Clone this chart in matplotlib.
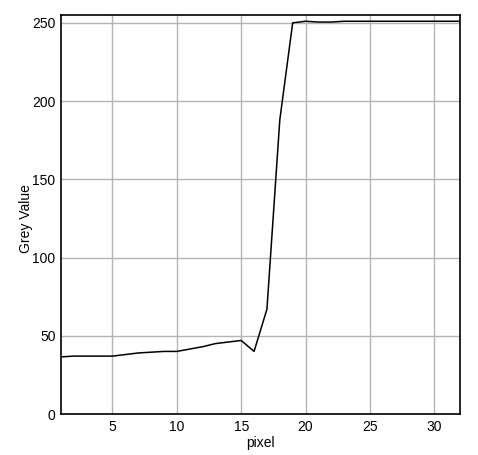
import numpy as np
import matplotlib.pyplot as plt

plt.rcParams['font.family'] = ['Liberation Sans', 'DejaVu Sans']

# profile values
pixel = list(range(1, 33))
grey = [36.5, 37, 37, 37, 37, 38, 39, 39.5, 40, 40,
        41.5, 43, 45, 46, 47, 40, 67, 188, 250, 251,
        250.5, 250.5, 251, 251, 251, 251, 251, 251, 251, 251,
        251, 251]

fig = plt.figure(figsize=(4.78, 4.55), dpi=100)
ax = fig.add_axes([61/478, 1 - 414/455, 399/478, 399/455])

ax.plot(pixel, grey, color='black', linewidth=1.1)

ax.set_xlim(1, 32)
ax.set_ylim(0, 255)
ax.set_xticks([5, 10, 15, 20, 25, 30])
ax.set_yticks([0, 50, 100, 150, 200, 250])
ax.grid(True, color='#b4b4b4', linewidth=1.0)
ax.set_axisbelow(True)
ax.tick_params(length=0, labelsize=10, pad=4)
for s in ax.spines.values():
    s.set_linewidth(1.2)

ax.set_xlabel('pixel', fontsize=10, labelpad=2)
ax.set_ylabel('Grey Value', fontsize=10)
ax.yaxis.set_label_coords(-0.070, 0.49)

plt.savefig('out.png', dpi=100)
